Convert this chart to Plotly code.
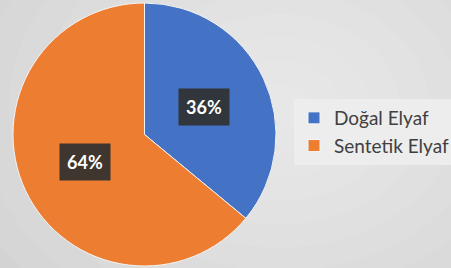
import math
import plotly.graph_objects as go

labels = ["Doğal Elyaf", "Sentetik Elyaf"]
values = [36, 64]
colors = ["#4472C4", "#ED7D31"]

W, H = 451, 268
# pie domain in pixels (left, right, top, bottom)
px0, px1, py0, py1 = 13, 276, 3, 266
dom_x = [px0 / W, px1 / W]
dom_y = [1 - py1 / H, 1 - py0 / H]

fig = go.Figure()
fig.add_trace(go.Pie(
    labels=labels, values=values, sort=False, direction="clockwise", rotation=0,
    marker=dict(colors=colors, line=dict(color="#f4f4f4", width=1)),
    textinfo="none", hoverinfo="label+percent",
    domain=dict(x=dom_x, y=dom_y),
))

# data labels at half radius along each slice's mid-angle
cx = (px0 + px1) / 2
cy = (py0 + py1) / 2
r = min(px1 - px0, py1 - py0) / 2
total = sum(values)
acc = 0
annotations = []
for v in values:
    mid = (acc + v / 2) / total * 2 * math.pi
    acc += v
    x = cx + 0.5 * r * math.sin(mid)
    y = cy - 0.5 * r * math.cos(mid)
    annotations.append(dict(
        x=x / W, y=1 - y / H, xref="paper", yref="paper", showarrow=False,
        xanchor="center", yanchor="middle",
        text=f"<b>{round(v / total * 100)}%</b>",
        font=dict(family="Lato", size=18, color="white"),
        bgcolor="rgba(48,48,48,0.92)", borderpad=7,
    ))

# soft radial background glow
shapes = []
n = 12
for i in range(n):
    f = 1 - i / n
    shapes.append(dict(
        type="circle", xref="paper", yref="paper", layer="below",
        x0=0.62 - 0.8 * f, x1=0.62 + 0.8 * f, y0=0.6 - 1.05 * f, y1=0.6 + 1.05 * f,
        fillcolor="rgba(255,255,255,0.07)", line=dict(width=0),
    ))

fig.update_layout(
    width=W, height=H, margin=dict(l=0, r=0, t=0, b=0, autoexpand=False),
    paper_bgcolor="#d0d0d0", plot_bgcolor="rgba(0,0,0,0)",
    font=dict(family="Lato", color="#404040"),
    showlegend=True,
    legend=dict(
        x=294 / W, y=1 - 132 / H, xanchor="left", yanchor="middle",
        bgcolor="#ededed", font=dict(family="Lato", size=19, color="#404040"),
        itemwidth=30, borderwidth=0,
    ),
    annotations=annotations, shapes=shapes,
)

fig.write_html("out.html", config={"displayModeBar": False},
               post_script="document.body.style.margin='0';")
